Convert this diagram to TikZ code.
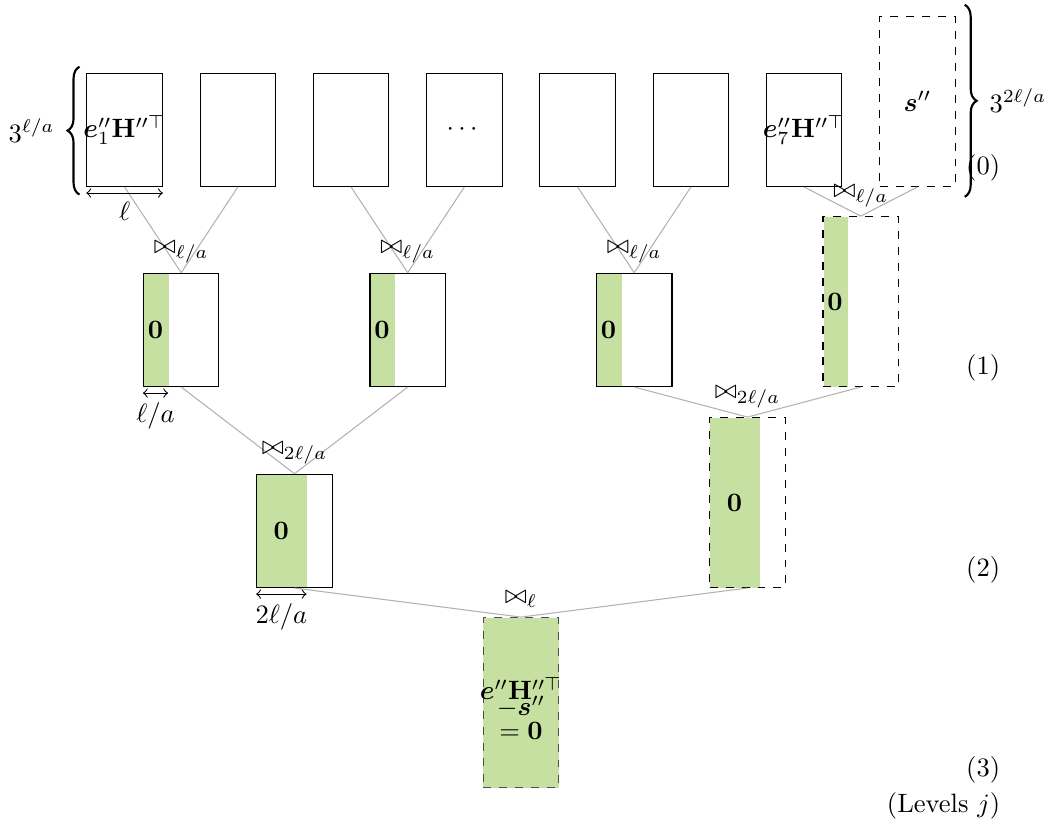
\documentclass[tikz,border=0pt]{standalone}
\usepackage{amsmath,amssymb,bm}
\usetikzlibrary{decorations.pathreplacing}
\definecolor{zerogreen}{RGB}{197,224,160}
\tikzset{
	blk/.style={draw, minimum width=1cm, minimum height=1.5cm, inner sep=0pt, anchor=south},
	tallblk/.style={draw, dashed, minimum width=1cm, minimum height=2.25cm, inner sep=0pt, anchor=south},
	zero/.style={path picture={\fill[zerogreen] ([xshift=0.2pt]path picture bounding box.south west) rectangle ([xshift=#1]path picture bounding box.north west);}},
	link/.style={gray!60},
	bracestyle/.style={thick, decorate, decoration={brace, amplitude=4.5pt}},
	lvl/.style={anchor=east}
}
\begin{document}
\begin{tikzpicture}
	\useasboundingbox (0,0) rectangle (13.88,-10.99);
	% level 0
	\node[blk] (a1) at (1.65,-2.477) {};
	\node[blk] (a2) at (3.15,-2.477) {};
	\node[blk] (a3) at (4.65,-2.477) {};
	\node[blk] (a4) at (6.15,-2.477) {};
	\node[blk] (a5) at (7.65,-2.477) {};
	\node[blk] (a6) at (9.15,-2.477) {};
	\node[blk] (a7) at (10.65,-2.477) {};
	\node[tallblk] (sa) at (12.15,-2.477) {};
	\node (t1) at (a1) {$\boldsymbol{e}_1''\mathbf{H}''^{\top}$};
	\node (t4) at (a4) {$\cdots$};
	\node (t7) at (a7) {$\boldsymbol{e}_7''\mathbf{H}''^{\top}$};
	\node (ts) at (sa) {$\boldsymbol{s}''$};
	% level 1
	\node[blk, zero=0.3333cm] (b1) at (2.4,-5.126) {};
	\node[blk, zero=0.3333cm] (b2) at (5.4,-5.126) {};
	\node[blk, zero=0.3333cm] (b3) at (8.4,-5.126) {};
	\node[tallblk, zero=0.3333cm] (b4) at (11.4,-5.126) {};
	% level 2
	\node[blk, zero=0.6667cm] (c1) at (3.9,-7.788) {};
	\node[tallblk, zero=0.6667cm] (c2) at (9.9,-7.788) {};
	% level 3
	\node[tallblk, fill=zerogreen, draw=black!70] (d) at (6.9,-10.437) {};
	\node[align=center] (td) at ([yshift=-0.08cm]d) {$\boldsymbol{e}''\mathbf{H}''^{\top}$\\[-6pt]$-\boldsymbol{s}''$\\[-3pt]$=\mathbf{0}$};
	% zeros
	\foreach \n in {b1,b2,b3,b4}
		\node (\n z) at ([xshift=0.1667cm]\n.west) {$\mathbf{0}$};
	\foreach \n in {c1,c2}
		\node (\n z) at ([xshift=0.3333cm]\n.west) {$\mathbf{0}$};
	% joins
	\foreach \u/\v in {a1/b1, a2/b1, a3/b2, a4/b2, a5/b3, a6/b3, a7/b4, sa/b4, b1/c1, b2/c1, b3/c2, b4/c2, c1/d, c2/d}
		\draw[link] (\u.south) -- (\v.north);
	\foreach \n in {b1,b2,b3,b4}
		\node[above] (j\n) at (\n.north) {$\bowtie_{\ell/a}$};
	\foreach \n in {c1,c2}
		\node[above] (j\n) at (\n.north) {$\bowtie_{2\ell/a}$};
	\node[above] (jd) at (d.north) {$\bowtie_{\ell}$};
	% widths
	\draw[<->] ([yshift=-0.08cm]a1.south west) -- ([yshift=-0.08cm]a1.south east) node[midway, below] (w1) {$\ell$};
	\draw[<->] ([yshift=-0.08cm]b1.south west) -- ([xshift=0.3333cm, yshift=-0.08cm]b1.south west) node[midway, below] (w2) {$\ell/a$};
	\draw[<->] ([yshift=-0.08cm]c1.south west) -- ([xshift=0.6667cm, yshift=-0.08cm]c1.south west) node[midway, below] (w3) {$2\ell/a$};
	% braces
	\draw[bracestyle] ([xshift=-0.09cm, yshift=-0.1cm]a1.south west) -- ([xshift=-0.09cm, yshift=0.08cm]a1.north west) node[midway, left, xshift=-0.2cm] (h1) {$3^{\ell/a}$};
	\draw[bracestyle] ([xshift=0.12cm, yshift=0.15cm]sa.north east) -- ([xshift=0.12cm, yshift=-0.13cm]sa.south east) node[midway, right, xshift=0.2cm] (h2) {$3^{2\ell/a}$};
	% levels
	\node[lvl] (lv0) at (13.37,-2.225) {(0)};
	\node[lvl] (lv1) at (13.37,-4.874) {(1)};
	\node[lvl] (lv2) at (13.37,-7.55) {(2)};
	\node[lvl] (lv3) at (13.37,-10.2) {(3)};
	\node[lvl] (lvj) at (13.37,-10.675) {(Levels $j$)};
\end{tikzpicture}
\end{document}
